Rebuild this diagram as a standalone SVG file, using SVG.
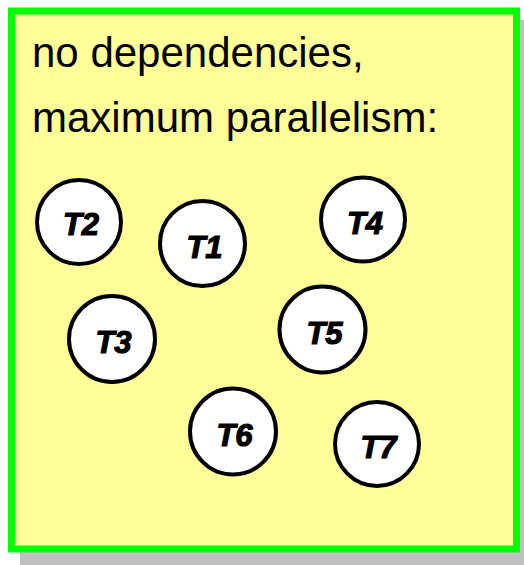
<svg xmlns="http://www.w3.org/2000/svg" width="524" height="565" viewBox="0 0 524 565">
<style>
.node circle{fill:#ffffff;stroke:#000000;stroke-width:4}
.node text{font-family:"Liberation Sans",Arial,sans-serif;font-weight:bold;font-style:italic;font-size:31px;text-anchor:middle;fill:#000;stroke:#000;stroke-width:1.2}
.title{font-family:"Liberation Sans",Arial,sans-serif;font-size:42px;fill:#000}
</style>
<rect x="0" y="0" width="524" height="565" fill="#ffffff"/>
<rect x="20" y="20" width="512" height="545" fill="#c0c0c0"/>
<rect x="11.5" y="11" width="505" height="538" fill="#ffff99" stroke="#00ff00" stroke-width="7"/>
<text class="title" x="32" y="66.7">no dependencies,</text>
<text class="title" x="32" y="131.7">maximum parallelism:</text>
<g id="connectors"></g>
<g id="T2" class="node"><circle cx="79" cy="222" r="42"/><text x="81" y="234.5">T2</text></g>
<g id="T1" class="node"><circle cx="202.5" cy="243.5" r="42.5"/><text x="204.5" y="257.5">T1</text></g>
<g id="T4" class="node"><circle cx="363" cy="219.5" r="42"/><text x="365" y="233.5">T4</text></g>
<g id="T3" class="node"><circle cx="112" cy="339" r="43"/><text x="113.5" y="352.5">T3</text></g>
<g id="T5" class="node"><circle cx="322.5" cy="329.5" r="43"/><text x="324.5" y="343.5">T5</text></g>
<g id="T6" class="node"><circle cx="233" cy="431.5" r="43"/><text x="234.5" y="445.5">T6</text></g>
<g id="T7" class="node"><circle cx="377" cy="444" r="42"/><text x="378.5" y="457.5">T7</text></g>
</svg>
